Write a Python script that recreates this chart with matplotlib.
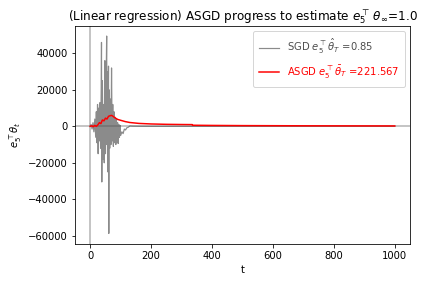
import numpy as np
import matplotlib
matplotlib.use('Agg')
import matplotlib.pyplot as plt

# SGD estimate of e_5^T theta_t (in raw units)
t_sgd = [0, 3, 6, 9, 12, 15, 18, 20, 22, 24, 26, 28, 30, 32, 34, 36, 37, 38,
         40, 42, 44, 46, 48, 50, 52, 54, 55, 56, 58, 60, 61, 62, 64, 66, 68,
         70, 72, 74, 76, 78, 80, 82, 84, 86, 88, 90, 92, 94, 96, 98, 100, 104,
         108, 112, 116, 120, 125, 130, 140, 160, 200, 300, 500, 700, 1000]
sgd = [0, 1000, -1500, 2000, -3000, 4000, -6000, 8000, -9000, 12000, -15000,
       10000, -8000, 13000, -12000, 20000, 46000, -30500, 25000, -18000, 12000,
       -20000, 36000, -15000, 22000, 49500, -10000, 30000, -25000, 33000,
       -58700, 20000, -12000, 15000, -10000, 32000, -8000, 12000, -11000, 8000,
       -9000, 5000, -10000, 4000, -9000, 2000, -9400, 1000, -6000, 500, -5000,
       -3000, -4000, -1500, -2000, -800, -500, 200, 100, 50, 0, 10, 0, 0, 0.85]

# ASGD (averaged) estimate
t_asgd = [0, 5, 10, 15, 20, 25, 30, 35, 40, 45, 50, 55, 60, 65, 70, 75, 80,
          90, 100, 115, 130, 160, 200, 250, 300, 335, 336, 400, 500, 700, 1000]
asgd = [0, 300, -200, 500, 0, 800, 2000, 1500, 3500, 3000, 4500, 4000, 5500,
        5800, 6000, 5500, 4800, 3800, 3300, 2600, 2100, 1600, 1300, 1100, 1000,
        950, 600, 500, 400, 300, 221.567]

fig = plt.figure(figsize=(423/72, 282/72), dpi=72)
ax = fig.add_axes([75/423, 38/282, 335/423, 218/282])

ax.axhline(0, color='grey', alpha=0.6, lw=1.5)
ax.axvline(0, color='grey', alpha=0.6, lw=1.5)
ax.plot(t_sgd, sgd, color='0.3', alpha=0.65, lw=1.2,
        label=r'SGD $e_5^\top\hat{\theta}_T$ =0.85')
ax.plot(t_asgd, asgd, color='red', lw=1.5,
        label=r'ASGD $e_5^\top\bar{\theta}_T$ =221.567')

ax.set_xlim(-50, 1050)
ax.set_ylim(-64500, 55000)
ax.set_xlabel('t')
ax.set_ylabel(r'$e_5^\top\theta_t$')
ax.set_title(r'(Linear regression) ASGD progress to estimate $e_5^\top\,\theta_\infty$=1.0')
ax.legend(loc='upper right', labelcolor='linecolor', borderpad=0.6, labelspacing=0.75)

plt.savefig('out.png', dpi=72)
